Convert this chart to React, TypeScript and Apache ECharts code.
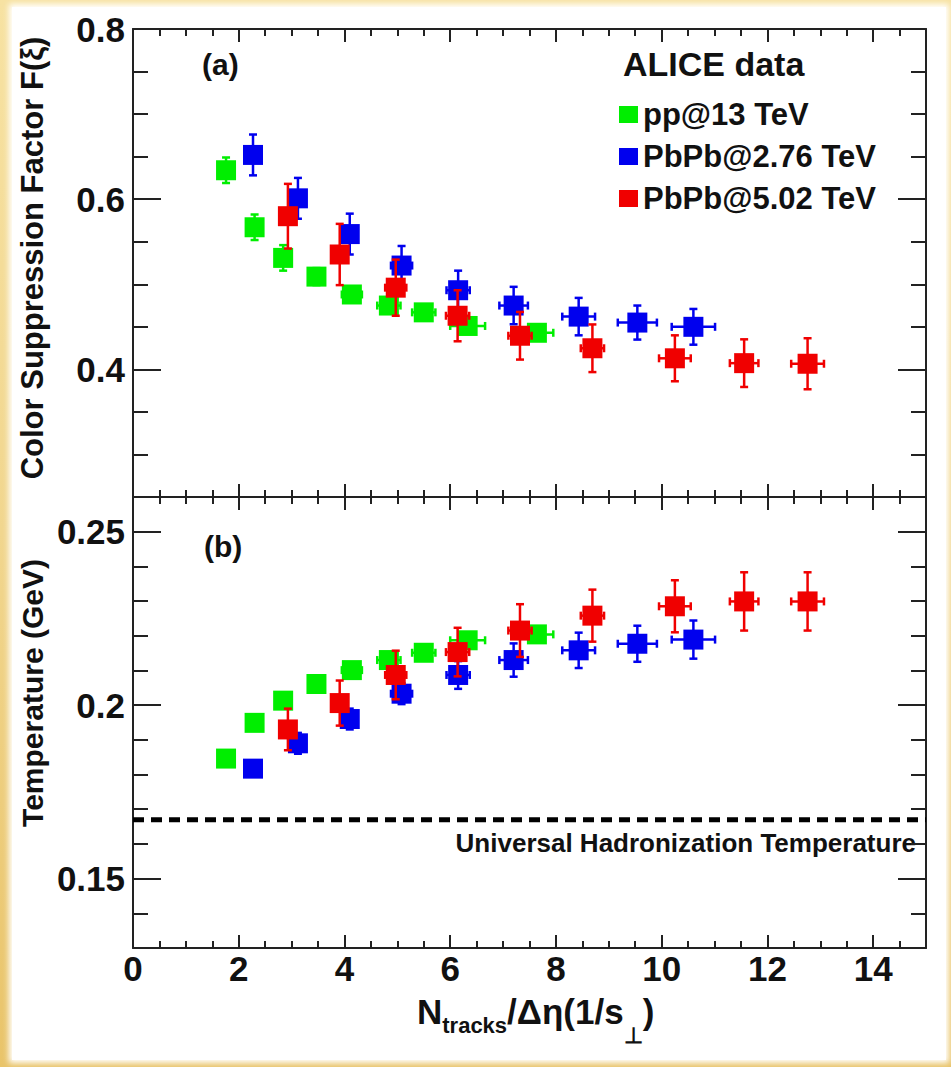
import React, { useEffect, useRef } from "react";
import * as echarts from "echarts";

// ---------------- data ----------------
const seriesNames = ["pp@13 TeV", "PbPb@2.76 TeV", "PbPb@5.02 TeV"];
const seriesColors = ["#00ee00", "#0000ee", "#f00000"];

// pp @ 13 TeV
const ppX = [1.76, 2.3, 2.84, 3.47, 4.14, 4.84, 5.5, 6.33, 7.64];
const ppXErr = [0.1, 0.1, 0.1, 0.12, 0.19, 0.22, 0.22, 0.33, 0.31];
const ppF = [0.634, 0.567, 0.531, 0.509, 0.488, 0.475, 0.467, 0.451, 0.443];
const ppFErr = [0.015, 0.015, 0.015, 0.01, 0.008, 0.008, 0.008, 0.008, 0.008];
const ppT = [0.1846, 0.1949, 0.2013, 0.2061, 0.2101, 0.213, 0.2151, 0.2187, 0.2204];
const ppTErr = [0.002, 0.002, 0.002, 0.002, 0.002, 0.002, 0.002, 0.002, 0.002];

// PbPb @ 2.76 TeV
const pb276X = [2.27, 3.12, 4.1, 5.08, 6.15, 7.2, 8.43, 9.54, 10.6];
const pb276XErr = [0.1, 0.1, 0.12, 0.2, 0.22, 0.27, 0.31, 0.37, 0.41];
const pb276F = [0.652, 0.601, 0.559, 0.522, 0.493, 0.475, 0.462, 0.455, 0.45];
const pb276FErr = [0.024, 0.024, 0.024, 0.023, 0.023, 0.022, 0.022, 0.02, 0.021];
const pb276T = [0.1817, 0.189, 0.196, 0.2033, 0.2087, 0.213, 0.2158, 0.2177, 0.2189];
const pb276TErr = [0.002, 0.003, 0.003, 0.003, 0.004, 0.0048, 0.0051, 0.0052, 0.0055];

// PbPb @ 5.02 TeV
const pb502X = [2.93, 3.91, 4.97, 6.14, 7.32, 8.69, 10.25, 11.56, 12.76];
const pb502XErr = [0.12, 0.15, 0.2, 0.22, 0.22, 0.22, 0.3, 0.27, 0.31];
const pb502F = [0.58, 0.535, 0.496, 0.463, 0.4395, 0.4248, 0.413, 0.4073, 0.4066];
const pb502FErr = [0.038, 0.036, 0.033, 0.03, 0.028, 0.028, 0.027, 0.028, 0.03];
const pb502T = [0.193, 0.2006, 0.2087, 0.2153, 0.2215, 0.2258, 0.2285, 0.2299, 0.2299];
const pb502TErr = [0.006, 0.0065, 0.007, 0.007, 0.0076, 0.0075, 0.0075, 0.0084, 0.0084];

const hadronizationT = 0.167;

// axes
const xMin = 0;
const xMax = 15;
const xMajorTicks = [0, 2, 4, 6, 8, 10, 12, 14];
const topYMin = 0.25;
const topYMax = 0.8;
const topYMajor = [0.4, 0.6, 0.8];
const botYMin = 0.13;
const botYMax = 0.26;
const botYMajor = [0.15, 0.2, 0.25];

const FONT = "'Liberation Sans', Arial, Helvetica, sans-serif";

function stepTicks(lo: number, hi: number, step: number, skip: number[]) {
  const out: number[] = [];
  const n = Math.round((hi - lo) / step);
  for (let i = 0; i <= n; i++) {
    const v = +(lo + i * step).toFixed(4);
    if (!skip.some((s) => Math.abs(s - v) < 1e-6)) out.push(v);
  }
  return out;
}

const xMinorTicks = stepTicks(0.5, 14.5, 0.5, xMajorTicks);
const topYMinor = stepTicks(0.3, 0.75, 0.05, topYMajor);
const botYMinor = stepTicks(0.14, 0.24, 0.01, botYMajor);

const groups = [
  { name: seriesNames[0], color: seriesColors[0], x: ppX, xe: ppXErr, f: ppF, fe: ppFErr, t: ppT, te: ppTErr },
  { name: seriesNames[1], color: seriesColors[1], x: pb276X, xe: pb276XErr, f: pb276F, fe: pb276FErr, t: pb276T, te: pb276TErr },
  { name: seriesNames[2], color: seriesColors[2], x: pb502X, xe: pb502XErr, f: pb502F, fe: pb502FErr, t: pb502T, te: pb502TErr },
];

const FRAME = "#222";
const GRID_LEFT = 133;
const GRID_W = 793;
const GRID0_TOP = 29;
const GRID0_H = 468;
const GRID1_TOP = 497;
const GRID1_H = 451;

function xAxes(gi: number) {
  const base = {
    gridIndex: gi,
    type: "value",
    min: xMin,
    max: xMax,
    splitLine: { show: false },
    minorTick: { show: false },
  };
  const mk = (pos: string, major: boolean, labels: boolean) => ({
    ...base,
    position: pos,
    axisLine: { show: major, onZero: false, lineStyle: { color: FRAME, width: 2 } },
    axisTick: {
      show: true,
      inside: true,
      length: major ? 13 : 7,
      customValues: major ? xMajorTicks : xMinorTicks,
      lineStyle: { color: FRAME, width: 2 },
    },
    axisLabel: labels
      ? {
          show: true,
          customValues: xMajorTicks,
          fontSize: 35,
          fontWeight: "bold",
          fontFamily: FONT,
          color: "#111",
          margin: 3,
        }
      : { show: false },
  });
  return [
    mk("bottom", true, gi === 1),
    mk("bottom", false, false),
    mk("top", true, false),
    mk("top", false, false),
  ];
}

function yAxes(gi: number, min: number, max: number, major: number[], minor: number[]) {
  const base = {
    gridIndex: gi,
    type: "value",
    min,
    max,
    splitLine: { show: false },
    minorTick: { show: false },
  };
  const mk = (pos: string, isMajor: boolean, labels: boolean) => ({
    ...base,
    position: pos,
    axisLine: { show: isMajor, onZero: false, lineStyle: { color: FRAME, width: 2 } },
    axisTick: {
      show: true,
      inside: true,
      length: isMajor ? 28 : 15,
      customValues: isMajor ? major : minor,
      lineStyle: { color: FRAME, width: 2 },
    },
    axisLabel: labels
      ? {
          show: true,
          customValues: major,
          fontSize: 35,
          fontWeight: "bold",
          fontFamily: FONT,
          color: "#111",
          margin: 8,
          formatter: (v: number) => String(+v.toFixed(3)),
        }
      : { show: false },
  });
  return [mk("left", true, true), mk("left", false, false), mk("right", true, false), mk("right", false, false)];
}

function errRender(color: string) {
  return (params: any, api: any) => {
    const x = api.value(0);
    const y = api.value(1);
    const ex = api.value(2);
    const ey = api.value(3);
    const c = api.coord([x, y]);
    const l = api.coord([x - ex, y]);
    const r = api.coord([x + ex, y]);
    const t = api.coord([x, y + ey]);
    const b = api.coord([x, y - ey]);
    const cap = 4;
    const style = { stroke: color, lineWidth: 2.5, fill: "none" };
    const children: any[] = [
      { type: "line", shape: { x1: l[0], y1: c[1], x2: r[0], y2: c[1] }, style },
      { type: "line", shape: { x1: l[0], y1: c[1] - cap, x2: l[0], y2: c[1] + cap }, style },
      { type: "line", shape: { x1: r[0], y1: c[1] - cap, x2: r[0], y2: c[1] + cap }, style },
      { type: "line", shape: { x1: c[0], y1: t[1], x2: c[0], y2: b[1] }, style },
      { type: "line", shape: { x1: c[0] - cap, y1: t[1], x2: c[0] + cap, y2: t[1] }, style },
      { type: "line", shape: { x1: c[0] - cap, y1: b[1], x2: c[0] + cap, y2: b[1] }, style },
    ];
    return { type: "group", children };
  };
}

function buildSeries() {
  const series: any[] = [];
  groups.forEach((g, gi) => {
    const panels = [
      { axis: 0, y: g.f, ye: g.fe },
      { axis: 4, y: g.t, ye: g.te },
    ];
    panels.forEach((p) => {
      series.push({
        name: g.name,
        type: "scatter",
        xAxisIndex: p.axis,
        yAxisIndex: p.axis,
        symbol: "rect",
        symbolSize: 20,
        itemStyle: { color: g.color, opacity: 1 },
        z: 4 + gi,
        data: g.x.map((xv, i) => [xv, p.y[i]]),
      });
      series.push({
        name: g.name + " errors",
        type: "custom",
        xAxisIndex: p.axis,
        yAxisIndex: p.axis,
        z: 4 + gi,
        encode: { x: 0, y: 1 },
        renderItem: errRender(g.color),
        data: g.x.map((xv, i) => [xv, p.y[i], g.xe[i], p.ye[i]]),
      });
    });
  });
  series.push({
    name: "Universal Hadronization Temperature",
    type: "line",
    xAxisIndex: 4,
    yAxisIndex: 4,
    symbol: "none",
    silent: true,
    z: 3,
    lineStyle: { color: "#000", width: 5, type: [11, 7] },
    data: [
      [xMin, hadronizationT],
      [xMax, hadronizationT],
    ],
  });
  return series;
}

export default function App() {
  const ref = useRef<HTMLDivElement>(null);

  useEffect(() => {
    if (!ref.current) return;
    const chart = echarts.init(ref.current, undefined, { renderer: "svg" });
    const option: any = {
      animation: false,
      backgroundColor: "transparent",
      grid: [
        { left: GRID_LEFT, top: GRID0_TOP, width: GRID_W, height: GRID0_H, outerBoundsMode: "none", containLabel: false },
        { left: GRID_LEFT, top: GRID1_TOP, width: GRID_W, height: GRID1_H, outerBoundsMode: "none", containLabel: false },
      ],
      xAxis: [...xAxes(0), ...xAxes(1)],
      yAxis: [
        ...yAxes(0, topYMin, topYMax, topYMajor, topYMinor),
        ...yAxes(1, botYMin, botYMax, botYMajor, botYMinor),
      ],
      legend: {
        orient: "vertical",
        left: 614,
        top: 94,
        itemGap: 11,
        itemWidth: 19,
        itemHeight: 17,
        icon: "rect",
        selectedMode: false,
        data: seriesNames,
        textStyle: { fontSize: 31, fontWeight: "bold", fontFamily: FONT, color: "#111" },
      },
      graphic: [
        {
          type: "text",
          x: 623,
          y: 64,
          style: { text: "ALICE data", font: `bold 34px ${FONT}`, fill: "#111", textAlign: "left", textVerticalAlign: "middle" },
        },
        {
          type: "text",
          x: 202,
          y: 64,
          style: { text: "(a)", font: `bold 30px ${FONT}`, fill: "#111", textAlign: "left", textVerticalAlign: "middle" },
        },
        {
          type: "text",
          x: 204,
          y: 546,
          style: { text: "(b)", font: `bold 30px ${FONT}`, fill: "#111", textAlign: "left", textVerticalAlign: "middle" },
        },
        {
          type: "text",
          x: 916,
          y: 843,
          style: {
            text: "Universal Hadronization Temperature",
            font: `bold 26px ${FONT}`,
            fill: "#111",
            textAlign: "right",
            textVerticalAlign: "middle",
          },
        },
        {
          type: "text",
          x: 32,
          y: 258,
          rotation: Math.PI / 2,
          style: {
            text: "Color Suppression Factor F(ξ)",
            font: `bold 31px ${FONT}`,
            fill: "#111",
            textAlign: "center",
            textVerticalAlign: "middle",
          },
        },
        {
          type: "text",
          x: 32,
          y: 693,
          rotation: Math.PI / 2,
          style: {
            text: "Temperature (GeV)",
            font: `bold 30px ${FONT}`,
            fill: "#111",
            textAlign: "center",
            textVerticalAlign: "middle",
          },
        },
        {
          type: "text",
          x: 417,
          y: 994,
          style: {
            text: "{n|N}{s|tracks}{n|/Δη(1/s}{p|⊥}{n|)}",
            fill: "#111",
            textAlign: "left",
            textVerticalAlign: "top",
            rich: {
              n: { fontSize: 35, fontWeight: "bold", fontFamily: FONT, fill: "#111", verticalAlign: "top", lineHeight: 38 },
              s: { fontSize: 22, fontWeight: "bold", fontFamily: FONT, fill: "#111", verticalAlign: "top", padding: [20, 0, 0, 0], lineHeight: 24 },
              p: { fontSize: 22, fontWeight: "bold", fontFamily: FONT, fill: "#111", verticalAlign: "top", padding: [30, 0, 0, 0], lineHeight: 24 },
            },
          },
        },
      ],
      series: buildSeries(),
    };
    chart.setOption(option);
    return () => chart.dispose();
  }, []);

  return (
    <div
      style={{
        position: "absolute",
        left: 0,
        top: 0,
        width: 951,
        height: 1067,
        background: "linear-gradient(180deg, #f7e2a2 0%, #f1d68e 50%, #e9c46a 100%)",
        overflow: "hidden",
      }}
    >
      <div
        style={{
          position: "absolute",
          left: 12,
          top: 7,
          width: 934,
          height: 1053,
          background: "#ffffff",
          boxShadow: "0 0 6px 3px #ffffff",
        }}
      />
      <div ref={ref} style={{ position: "absolute", left: 0, top: 0, width: 951, height: 1067 }} />
    </div>
  );
}
